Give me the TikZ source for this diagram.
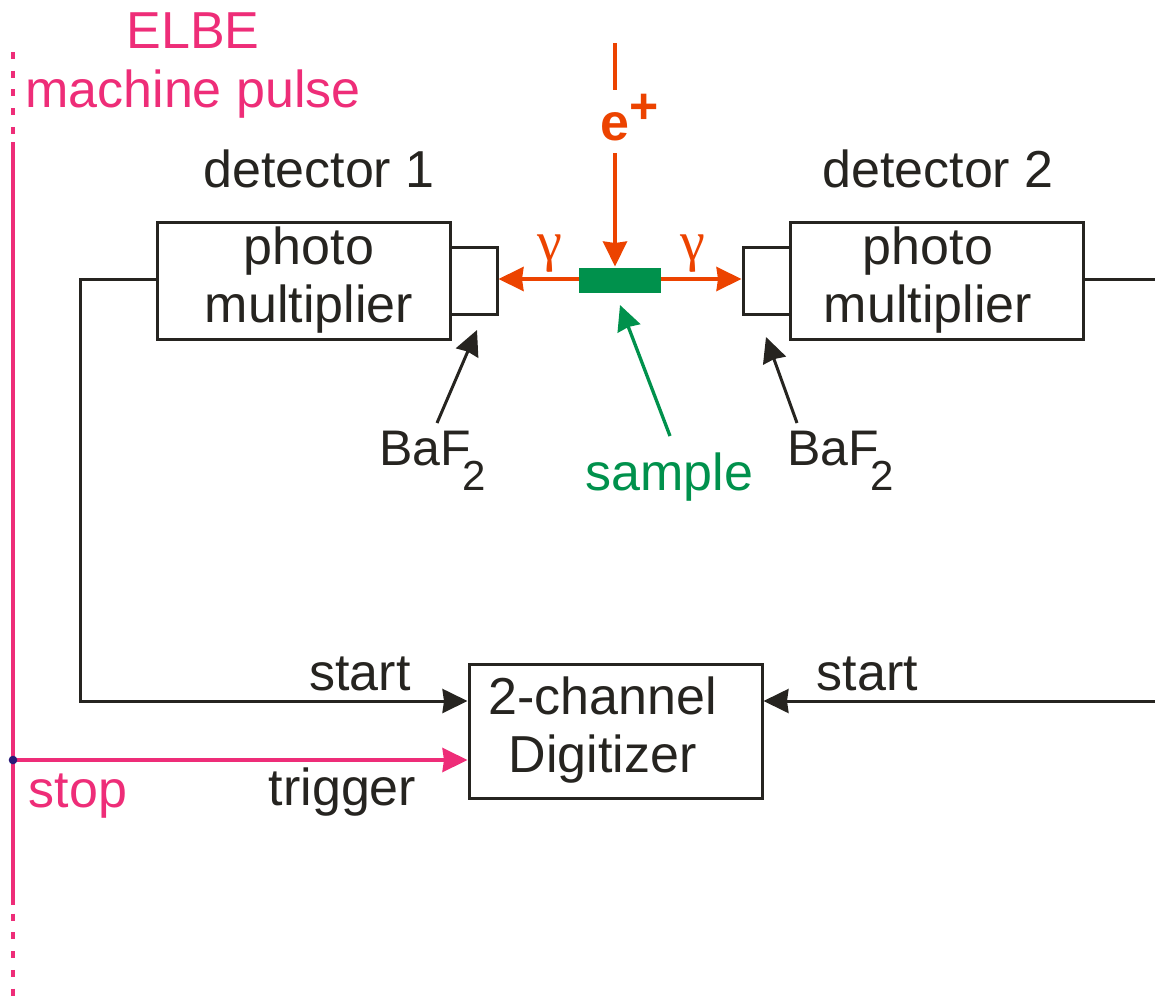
\documentclass[tikz,border=0pt]{standalone}
\usepackage{fontspec}
\setmainfont{Liberation Sans}
\newfontfamily\gammafont{Liberation Serif}
\usetikzlibrary{arrows.meta}
\definecolor{ink}{HTML}{262420}
\definecolor{pulse}{HTML}{EE2D78}
\definecolor{beam}{HTML}{EC4300}
\definecolor{samp}{HTML}{00914C}
\definecolor{dotc}{HTML}{2A1A78}
\tikzset{
  x=1pt,y=-1pt,
  every node/.style={font=\fontsize{52}{58}\selectfont,text=ink},
  lab/.style={anchor=base,inner sep=0pt},
  boxn/.style={draw=ink,line width=3pt,inner sep=0pt,outer sep=0pt,align=center},
  wire/.style={draw=ink,line width=3pt},
  tip/.style={-{Stealth[length=25pt,width=24pt,inset=1.5pt]},shorten >=1.5pt},
  beamline/.style={draw=beam,line width=3.5pt},
  pulseline/.style={draw=pulse,line width=3.6pt},
  pulsedash/.style={pulseline,dash pattern=on 7pt off 11.7pt},
  gam/.style={lab,text=beam,font=\fontsize{56}{56}\selectfont\gammafont},
}
\newcommand{\subtwo}{\kern-9pt\raisebox{-25pt}{\fontsize{42}{42}\selectfont 2}}
\newcommand{\dropbase}[1]{\rule[-#1pt]{0pt}{#1pt}}
\begin{document}
\begin{tikzpicture}
\useasboundingbox (0,0) rectangle (1155,996);
% axis heights and free ends
\coordinate (axis) at (0,279);
\coordinate (pulsetop) at (13,52);
\coordinate (pulsea) at (13,142);
\coordinate (pulseb) at (13,905);
\coordinate (pulseend) at (13,996);
\coordinate (junction) at (13,760);
\coordinate (bend1a) at (80,279);
\coordinate (bend1b) at (80,701);
\coordinate (right1) at (1155,279);
\coordinate (right2) at (1155,701);
\coordinate (beamtop) at (615,43);
\coordinate (beamgapa) at (615,90);
\coordinate (beamgapb) at (615,153);
% boxes
\node[boxn,minimum width=293pt,minimum height=117pt] (pm1) at (303.5,280.5) {\hspace*{11pt}photo\\\hspace*{11pt}multiplier\dropbase{10}};
\node[boxn,minimum width=293pt,minimum height=117pt] (pm2) at (936.5,280.5) {\hspace*{-17pt}photo\\\hspace*{-17pt}multiplier\dropbase{10}};
\node[boxn,minimum width=47pt,minimum height=67pt] (sc1) at (473.5,280.5) {};
\node[boxn,minimum width=47pt,minimum height=67pt] (sc2) at (766.5,280.5) {};
\node[boxn,minimum width=293pt,minimum height=134pt] (dig) at (615.5,731) {\hspace*{-26pt}2-channel\\\hspace*{-26pt}Digitizer\dropbase{13}};
\node[fill=samp,inner sep=0pt,outer sep=0pt,minimum width=82pt,minimum height=25pt] (sample) at (619.5,280.5) {};
% labels
\node[lab,text=pulse] (elbe) at (193,48) {ELBE};
\node[lab,text=pulse] (machine) at (193,107) {machine pulse};
\node[lab] (det1) at (319,187.5) {detector 1};
\node[lab] (det2) at (938,187.5) {detector 2};
\node[lab,anchor=base west,text=beam,font=\fontsize{52}{58}\selectfont\bfseries] (eplus) at (600,140) {e\raisebox{17pt}{\fontsize{50}{50}\selectfont +}};
\node[gam] (gam1) at (550,260) {γ};
\node[gam] (gam2) at (693,260) {γ};
\node[lab,font=\fontsize{50}{58}\selectfont] (baf1) at (432.5,465) {BaF\subtwo};
\node[lab,font=\fontsize{50}{58}\selectfont] (baf2) at (840.5,465) {BaF\subtwo};
\node[lab,text=samp] (samplelab) at (669.5,490) {sample};
\node[lab] (start1) at (360,690) {start};
\node[lab] (start2) at (867.5,690) {start};
\node[lab] (trigger) at (342.5,805) {trigger};
\node[lab,text=pulse] (stop) at (78,807) {stop};
% pulse line
\draw[pulsedash] (pulsetop) -- (pulsea);
\draw[pulseline] (pulsea) -- (pulseb);
\draw[pulsedash] ([yshift=10pt]pulseb) -- (pulseend);
\draw[pulseline,tip] (junction) -- (dig.west |- junction);
\fill[dotc] (junction) circle (4.3pt);
% signal wires
\draw[wire,tip] (pm1.west |- axis) -- (bend1a) -- (bend1b) -- (bend1b -| dig.west);
\draw[wire] (pm2.east |- axis) -- (right1);
\draw[wire,tip] (right2) -- (right2 -| dig.east);
% beam
\draw[beamline] (beamtop) -- (beamgapa);
\draw[beamline,tip] (beamgapb) -- (beamgapb |- sample.north);
\draw[beamline,tip] (sample.west |- axis) -- (sc1.east |- axis);
\draw[beamline,tip] (sample.east |- axis) -- (sc2.west |- axis);
% pointers
\coordinate (baf1tail) at (437,423);
\coordinate (baf1head) at (477,330);
\coordinate (baf2tail) at (797,423);
\coordinate (baf2head) at (766,337);
\coordinate (samptail) at (670,436);
\coordinate (samphead) at (620,305);
\draw[wire,tip,shorten >=0pt] (baf1tail) -- (baf1head);
\draw[wire,tip,shorten >=0pt] (baf2tail) -- (baf2head);
\draw[draw=samp,line width=3.3pt,tip,shorten >=0pt] (samptail) -- (samphead);
\end{tikzpicture}
\end{document}
